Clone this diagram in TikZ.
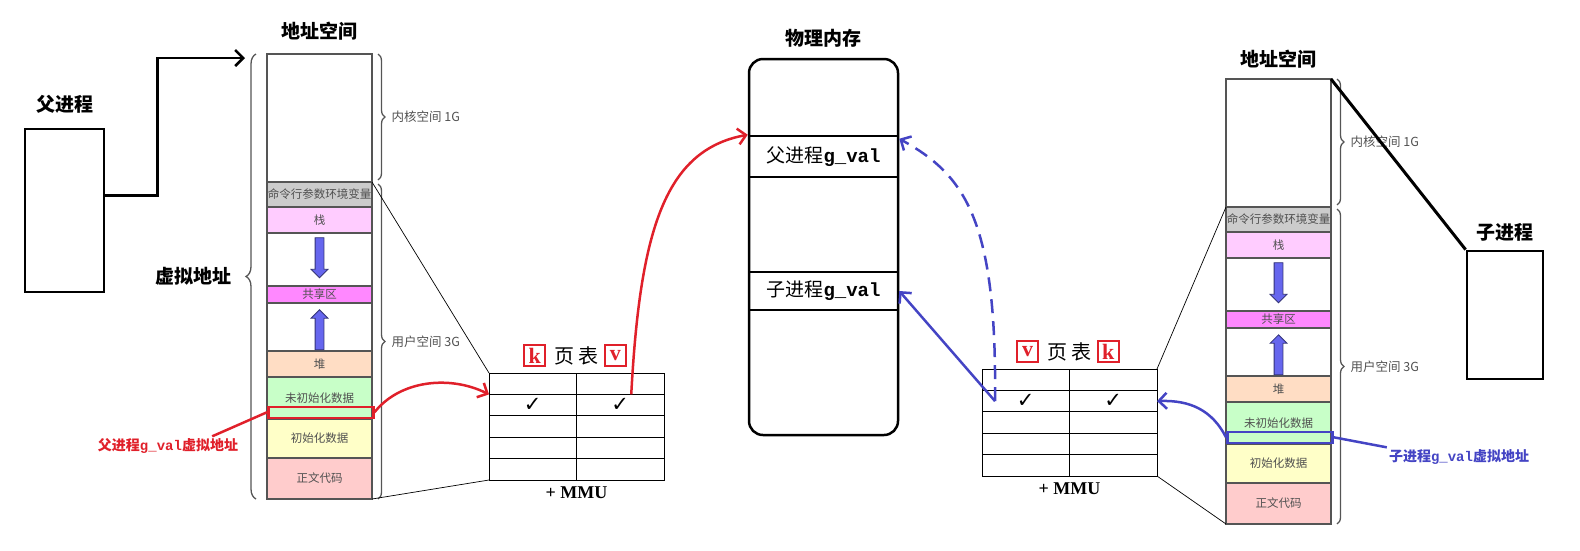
\documentclass[tikz,border=0pt]{standalone}
\usepackage{fontspec}
\newfontfamily\cjk{Noto Sans CJK SC}
\newfontfamily\symf{DejaVu Sans}
\newfontfamily\lat{Liberation Serif}
\setmonofont{Liberation Mono}
\usetikzlibrary{positioning,arrows.meta,shapes.arrows,decorations.pathreplacing}

\definecolor{segline}{HTML}{555555}
\definecolor{segtext}{HTML}{505050}
\definecolor{cmdgray}{HTML}{CCCCCC}
\definecolor{stackpink}{HTML}{FFCCFF}
\definecolor{sharemag}{HTML}{FF88FF}
\definecolor{heappeach}{HTML}{FFDDC4}
\definecolor{bssgreen}{HTML}{C8FFC8}
\definecolor{datayellow}{HTML}{FFFFC8}
\definecolor{textrose}{HTML}{FFCCCC}
\definecolor{arrfill}{HTML}{6666EE}
\definecolor{arrline}{HTML}{333377}
\definecolor{keyred}{HTML}{E0202A}
\definecolor{linkblue}{HTML}{4444C4}

\begin{document}
\begin{tikzpicture}[
  x=1pt, y=-1pt,
  font=\cjk,
  seg/.style={rectangle, draw=segline, line width=1.3pt, minimum width=105pt, inner sep=0pt, outer sep=0pt, text=segtext, font=\cjk\fontsize{11.5}{11.5}\selectfont},
  title/.style={inner sep=2pt, font=\cjk\bfseries\fontsize{19}{19}\selectfont},
  side/.style={inner sep=1pt, text=segtext, font=\cjk\fontsize{12.5}{12.5}\selectfont},
  sidebrace/.style={decorate, decoration={brace, amplitude=7pt}, draw=segline, line width=1.3pt},
  growarrow/.style={single arrow, draw=arrline, fill=arrfill, line width=0.8pt, inner sep=4pt, minimum height=40pt, single arrow head extend=4pt},
  cell/.style={rectangle, draw, line width=0.9pt, minimum width=87.5pt, minimum height=21.4pt, inner sep=0pt, outer sep=0pt},
  check/.style={inner sep=0pt, font=\symf\fontsize{21}{21}\selectfont},
  keybox/.style={draw=keyred, line width=2.2pt, text=keyred, inner sep=0pt, minimum size=21pt, font=\lat\bfseries\fontsize{22}{22}\selectfont},
  slot/.style={draw, line width=2.5pt, minimum width=149pt, inner sep=0pt, font=\cjk\fontsize{19}{19}\selectfont},
  procbox/.style={draw, line width=2.8pt},
  gvbox/.style={line width=2.5pt, minimum width=105pt, minimum height=11pt, inner sep=0pt, anchor=south west},
  redline/.style={draw=keyred, line width=2.5pt},
  blueline/.style={draw=linkblue, line width=2.5pt},
  barb/.style={-{Straight Barb[length=8pt,width=16pt]}},
  gvlabel/.style={inner sep=2pt, font=\cjk\bfseries\fontsize{14}{14}\selectfont}
]
\useasboundingbox (0,0) rectangle (1580,550);

% address spaces
\foreach \c/\x/\y in {l/267/54, r/1226/79} {
  \node[seg, anchor=north west, minimum height=128pt] (\c ker) at (\x,\y) {};
  \node[seg, below=0pt of \c ker, minimum height=25pt, fill=cmdgray] (\c cmd) {命令行参数环境变量};
  \node[seg, below=0pt of \c cmd, minimum height=26pt, fill=stackpink] (\c stk) {栈};
  \node[seg, below=0pt of \c stk, minimum height=53pt] (\c gapa) {};
  \node[seg, below=0pt of \c gapa, minimum height=17pt, fill=sharemag] (\c shr) {共享区};
  \node[seg, below=0pt of \c shr, minimum height=48pt] (\c gapb) {};
  \node[seg, below=0pt of \c gapb, minimum height=26pt, fill=heappeach] (\c heap) {堆};
  \node[seg, below=0pt of \c heap, minimum height=42pt, fill=bssgreen] (\c bss) {未初始化数据};
  \node[seg, below=0pt of \c bss, minimum height=39pt, fill=datayellow] (\c data) {初始化数据};
  \node[seg, below=0pt of \c data, minimum height=41pt, fill=textrose] (\c txt) {正文代码};
  \node[growarrow, rotate=-90] (\c dn) at ([yshift=4pt]\c gapa.center) {};
  \node[growarrow, rotate=90] (\c up) at ([yshift=-5pt]\c gapb.center) {};
  \draw[sidebrace] ([xshift=6pt]\c ker.north east) -- ([xshift=6pt,yshift=2pt]\c ker.south east)
    node[side, midway, right=12pt] (\c kerlbl) {内核空间 1G};
  \draw[sidebrace] ([xshift=6pt,yshift=-2pt]\c cmd.north east) -- ([xshift=6pt]\c txt.south east)
    node[side, midway, right=12pt] (\c usrlbl) {用户空间 3G};
}
\node[title, above=12pt of lker] (lhead) {地址空间};
\node[title, above=9pt of rker] (rhead) {地址空间};
\draw[sidebrace, decoration={brace, amplitude=10pt}] ([xshift=-11pt]ltxt.south west) -- ([xshift=-11pt]lker.north west)
  node[title, midway, left=22pt] (vlbl) {虚拟地址};

% page tables
\foreach \p/\x/\y/\ka/\kb in {l/489/373/k/v, r/982/369/v/k} {
  \foreach \i in {0,...,4} {
    \node[cell, anchor=north west] (\p pa\i) at (\x, \y+\i*21.4) {};
    \node[cell, right=0pt of \p pa\i] (\p pb\i) {};
  }
  \node[check] (\p ca) at (\p pa1) {✓};
  \node[check] (\p cb) at (\p pb1) {✓};
  \node[above=6pt of \p pa0.north east, inner sep=2pt, font=\cjk\fontsize{20}{20}\selectfont] (\p pt) {页\hspace{4pt}表};
  \node[keybox, left=6pt of \p pt] (\p ka) {\ka};
  \node[keybox, right=3pt of \p pt] (\p kb) {\kb};
  \node[below=5pt of \p pa4.south east, inner sep=2pt, font=\lat\bfseries\fontsize{18}{18}\selectfont] (\p mmu) {+ MMU};
}

% physical memory
\node[draw, line width=2.5pt, rounded corners=14pt, minimum width=149pt, minimum height=376pt] (phys) at (823.5,247) {};
\node[title, above=8pt of phys] (physt) {物理内存};
\node[slot, minimum height=41pt] (pfa) at (823.5,156.5) {父进程{\ttfamily\bfseries g\_val}};
\node[slot, minimum height=38pt] (pch) at (823.5,291) {子进程{\ttfamily\bfseries g\_val}};

% processes
\node[procbox, minimum width=79pt, minimum height=163pt] (par) at (64.5,210.5) {};
\node[title, above=12pt of par] (parlbl) {父进程};
\node[procbox, minimum width=76pt, minimum height=128pt] (chd) at (1505,315) {};
\node[title, above=6pt of chd] (chdlbl) {子进程};

\coordinate (lin) at ([xshift=-22pt,yshift=-4pt]lker.north west);
\draw[line width=2.5pt, barb] ([yshift=15pt]par.east) -- ++(52,0) |- (lin);
\draw[line width=3pt] (rker.north east) -- (chd.north west);

% zoom lines to the tables
\draw[line width=0.7pt] (lcmd.north east) -- (lpa0.north west);
\draw[line width=0.7pt] (ltxt.south east) -- (lpa4.south west);
\draw[line width=0.7pt] (rcmd.north west) -- (rpb0.north east);
\draw[line width=0.7pt] (rtxt.south west) -- (rpb4.south east);

% parent g_val
\node[gvbox, draw=keyred] (lgv) at (lbss.south west) {};
\node[gvlabel, text=keyred] (lgvlbl) at (168,446) {父进程{\ttfamily g\_val}虚拟地址};
\draw[redline] ([xshift=-28pt]lgvlbl.north east) -- (lgv.west);
\draw[redline, barb] (lgv.east) .. controls (400,380) and (450,375) .. (lpa1.north west);
\draw[redline, barb] ([xshift=11pt]lpb1.north) .. controls (640,230) and (665,150) .. (pfa.north west);

% child g_val
\node[gvbox, draw=linkblue] (rgv) at (rbss.south west) {};
\node[gvlabel, text=linkblue] (rgvlbl) at (1459,457) {子进程{\ttfamily g\_val}虚拟地址};
\draw[blueline] (rgv.east) -- (rgvlbl.north west);
\draw[blueline, barb] (rgv.west) .. controls (1212,410) and (1190,400) .. (rpb1.east);
\draw[blueline, barb] ([xshift=13pt]rpa1.west) -- (pch.east);
\draw[blueline, barb, dash pattern=on 14pt off 8pt] ([xshift=13pt]rpa1.west) .. controls (997,220) and (965,175) .. ([yshift=-4pt]pfa.north east);
\end{tikzpicture}
\end{document}
